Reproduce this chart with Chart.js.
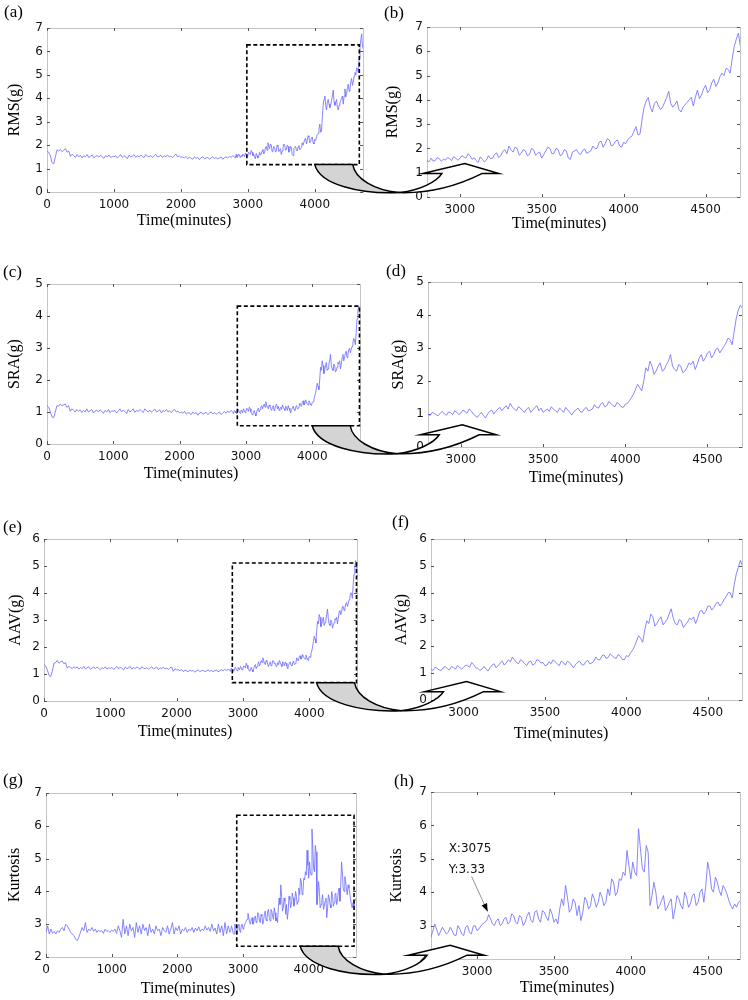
<!DOCTYPE html>
<html><head><meta charset="utf-8">
<script src="https://cdn.jsdelivr.net/npm/chart.js@4.4.1/dist/chart.umd.min.js"></script>
<style>
html,body{margin:0;padding:0;background:#fff;}
#page{position:relative;width:748px;height:1000px;overflow:hidden;background:#fff;}
canvas.plot{position:absolute;}
.lbl{position:absolute;font-family:"Liberation Serif","Times New Roman",serif;color:#000;white-space:nowrap;line-height:1;}
#overlay{position:absolute;left:0;top:0;z-index:10;pointer-events:none;}
</style></head><body><div id="page"></div>
<script>
// ---------------- DATA ----------------
// early part: one reading every 25 minutes from 0 to 2800
const earlyIntervalMinutes = 25;
// late part (zoomed region): one reading every 12.5 minutes from 2812.5 to 4725
const lateStartMinutes = 2800;
const lateIntervalMinutes = 12.5;

const rmsEarlyValues = [
 1.75,1.7,1.55,1.25,1.2,1.5,1.8,1.75,1.82,1.72,1.78,1.85,1.7,
 1.75,
 1.52,1.62,1.55,1.48,1.6,1.5,1.57,1.45,1.55,1.5,1.6,1.47,1.53,1.58,1.46,1.52,1.55,1.49,1.57,1.5,1.44,1.55,1.5,1.58,1.47,1.52,1.5,
 1.55,1.45,1.52,1.6,1.48,1.55,1.5,1.42,1.57,1.5,1.53,1.6,1.48,1.55,1.5,1.58,1.52,1.47,1.6,1.53,1.5,1.56,1.48,1.55,1.6,1.5,1.52,1.57,1.47,1.55,1.5,1.58,1.5,1.53,1.47,1.56,1.62,1.5,1.54,1.48,
 1.5,1.45,1.52,1.42,1.48,1.45,1.4,1.5,1.44,1.47,1.38,1.46,1.5,1.42,1.45,1.48,1.4,1.45,1.5,1.43,1.47,1.42,1.45,1.5,1.4,1.46,1.5,1.45,1.52,1.48,1.55,1.5
];
const rmsLateValues = [
 1.45,1.6, 1.48,1.5, 1.62,1.58, 1.47,1.55, 1.52,1.62, 1.58,1.5, 1.66,1.6, 1.52,1.58,
 1.7,1.65, 1.6,1.78, 1.7,1.55, 1.62,1.5, 1.42,1.65, 1.55,1.45, 1.52,1.7, 1.58,1.6,
 1.75,1.82, 1.62,1.7, 1.88,1.95, 1.78,2.1, 1.95,1.85, 2.05,2.0, 1.72,1.8, 1.95,1.9,
 1.7,1.75, 2.0,1.95, 1.72,1.8, 1.85,1.6, 1.75,1.9, 2.05,2.0, 1.78,1.8, 2.0,1.95,
 1.7,1.75, 1.95,1.9, 1.6,1.55, 1.85,1.9, 1.95,1.8, 1.75,1.92, 1.98,1.8, 1.85,1.9,
 2.1,2.0, 2.0,2.25, 2.3,2.05, 2.2,2.4, 2.35,2.1, 2.15,2.3, 2.35,2.1, 2.05,2.25,
 2.2,2.35, 2.45,2.5, 2.7,2.9, 2.55,2.6, 3.2,3.7, 3.95,4.1, 3.7,3.5, 3.85,3.95,
 3.75,3.6, 3.7,3.9, 4.1,4.35, 3.85,3.7, 3.8,3.95, 3.6,3.5, 3.7,3.8, 3.9,4.0,
 4.1,3.75, 4.1,4.4, 4.05,4.2, 4.45,4.6, 4.3,4.4, 4.7,4.85, 4.55,4.7, 4.95,5.1,
 5.0,5.3, 5.25,5.1, 5.7,6.2, 6.5,6.75, 6.2,6.1
];

const sraEarlyValues = [
 1.2,1.15,1.0,0.85,0.82,1.0,1.2,1.18,1.25,1.2,1.22,1.25,1.15,
 1.2,
 1.02,1.1,1.05,1.0,1.08,1.02,1.07,0.98,1.05,1.0,1.1,1.0,1.04,1.08,0.97,1.03,1.06,1.0,1.07,1.02,0.96,1.05,1.0,1.08,0.98,1.04,1.02,
 1.05,0.97,1.03,1.1,1.0,1.06,1.02,0.95,1.08,1.0,1.04,1.1,0.99,1.05,1.01,1.08,1.03,0.98,1.1,1.04,1.0,1.06,0.99,1.05,1.09,1.0,1.03,1.07,0.97,1.05,1.01,1.08,1.0,1.04,0.98,1.05,1.08,1.0,1.03,0.97,
 1.0,0.96,1.02,0.93,0.98,0.96,0.92,1.0,0.95,0.98,0.9,0.97,1.0,0.93,0.96,0.99,0.92,0.97,1.0,0.94,0.98,0.93,0.96,1.0,0.92,0.97,1.02,0.96,1.03,0.98,1.05,1.0
];
const sraLateValues = [
 0.95,1.05, 1.02,0.97, 0.95,1.03, 1.08,1.0, 0.96,1.06, 1.04,0.98, 1.1,1.05, 0.98,1.03,
 1.12,1.08, 1.02,1.15, 1.1,1.0, 0.95,0.9, 0.98,1.05, 0.95,0.88, 1.0,1.08, 1.12,1.0,
 1.08,1.15, 1.2,1.1, 1.18,1.25, 1.15,1.32, 1.22,1.15, 1.1,1.22, 1.18,1.1, 1.05,1.15,
 1.2,1.05, 1.12,1.2, 1.25,1.1, 1.18,1.05, 1.1,1.15, 1.08,1.22, 1.15,1.1, 1.05,1.18,
 1.12,1.05, 1.2,1.12, 1.05,0.97, 1.08,1.12, 1.18,1.08, 1.05,1.15, 1.2,1.1, 1.12,1.15,
 1.28,1.2, 1.18,1.3, 1.35,1.22, 1.25,1.38, 1.32,1.25, 1.22,1.35, 1.3,1.22, 1.2,1.3,
 1.32,1.4, 1.5,1.6, 1.75,1.9, 1.8,1.7, 2.0,2.4, 2.3,2.6, 2.45,2.2, 2.3,2.45,
 2.55,2.3, 2.35,2.5, 2.6,2.8, 2.45,2.35, 2.3,2.5, 2.45,2.25, 2.3,2.4, 2.55,2.5,
 2.6,2.35, 2.5,2.7, 2.8,2.6, 2.7,2.85, 2.9,2.7, 2.8,2.95, 3.0,2.85, 2.95,3.05,
 3.15,3.3, 3.25,3.1, 3.5,3.9, 4.15,4.3, 4.2,4.0
];

const aavEarlyValues = [
 1.35,1.3,1.15,0.95,0.9,1.1,1.4,1.42,1.5,1.4,1.45,1.48,1.38,
 1.42,
 1.22,1.28,1.25,1.2,1.27,1.22,1.26,1.18,1.24,1.2,1.28,1.19,1.23,1.27,1.17,1.22,1.25,1.2,1.26,1.21,1.16,1.24,1.2,1.27,1.18,1.23,1.21,
 1.24,1.17,1.22,1.28,1.19,1.25,1.21,1.15,1.26,1.2,1.23,1.28,1.18,1.24,1.2,1.26,1.22,1.17,1.27,1.22,1.19,1.24,1.18,1.23,1.27,1.19,1.22,1.26,1.16,1.23,1.2,1.25,1.19,1.22,1.17,1.23,1.26,1.1,1.2,1.15,
 1.16,1.12,1.17,1.09,1.14,1.12,1.08,1.15,1.11,1.13,1.07,1.12,1.15,1.09,1.12,1.14,1.08,1.12,1.15,1.1,1.13,1.09,1.12,1.15,1.08,1.12,1.16,1.12,1.17,1.13,1.18,1.15
];
const aavLateValues = [
 1.1,1.22, 1.18,1.12, 1.1,1.2, 1.25,1.17, 1.12,1.24, 1.22,1.15, 1.28,1.23, 1.15,1.22,
 1.3,1.28, 1.22,1.4, 1.32,1.2, 1.18,1.1, 1.15,1.25, 1.15,1.08, 1.2,1.3, 1.35,1.2,
 1.28,1.38, 1.45,1.3, 1.38,1.5, 1.42,1.6, 1.5,1.4, 1.35,1.5, 1.45,1.35, 1.28,1.42,
 1.45,1.3, 1.35,1.5, 1.48,1.38, 1.4,1.28, 1.3,1.42, 1.35,1.5, 1.42,1.35, 1.28,1.45,
 1.4,1.3, 1.45,1.4, 1.3,1.2, 1.32,1.4, 1.45,1.33, 1.3,1.42, 1.48,1.35, 1.38,1.45,
 1.6,1.5, 1.5,1.65, 1.68,1.55, 1.58,1.72, 1.65,1.58, 1.55,1.7, 1.62,1.52, 1.5,1.65,
 1.62,1.75, 1.85,2.0, 2.2,2.4, 2.3,2.15, 2.6,2.95, 2.85,3.2, 3.1,2.75, 2.85,3.0,
 3.1,2.8, 2.9,3.0, 3.2,3.4, 3.05,2.85, 2.8,3.0, 2.95,2.7, 2.8,2.9, 3.05,3.0,
 3.1,2.85, 3.05,3.3, 3.35,3.2, 3.3,3.5, 3.5,3.35, 3.45,3.6, 3.65,3.5, 3.6,3.75,
 3.85,4.0, 4.0,3.8, 4.3,4.7, 4.95,5.2, 5.0,4.8
];

const kurtosisEarlyValues = [
 2.75,2.95,2.7,2.85,2.72,2.78,2.7,2.8,2.75,2.85,2.9,2.8,3.0,
 2.95,
 2.85,2.75,2.7,2.65,2.55,2.5,2.6,2.75,2.9,2.8,3.05,2.75,2.85,2.8,2.9,2.78,2.85,2.75,2.82,2.78,2.8,2.72,2.85,2.78,2.8,2.75,2.82,
 2.78,2.85,2.72,2.95,2.8,2.6,3.15,2.7,2.95,2.65,3.0,2.8,2.9,2.6,3.05,2.75,2.95,2.7,3.0,2.8,2.9,2.65,3.0,2.75,2.85,2.7,2.95,2.8,2.85,2.65,2.9,2.8,2.75,2.95,2.7,2.85,3.05,2.7,2.9,2.8,
 2.95,2.7,2.85,2.8,2.9,2.75,2.85,2.8,2.9,2.75,2.88,2.8,2.92,2.78,2.85,2.8,2.95,2.82,2.9,2.78,3.0,2.8,2.88,2.7,3.0,2.75,2.95,2.65,3.05,2.7,2.95,2.75
];
const kurtosisLateValues = [
 2.8,2.95, 2.85,2.72, 2.7,3.0, 2.9,2.75, 2.7,2.95, 3.0,2.8, 2.75,2.98, 3.0,2.85,
 2.9,3.0, 3.05,3.1, 3.15,3.33, 3.2,3.05, 3.0,3.15, 3.2,3.0, 3.05,3.2, 3.25,3.05,
 3.1,3.35, 3.3,3.1, 3.05,3.3, 3.25,3.0, 3.1,3.3, 3.4,3.15, 3.1,3.4, 3.45,3.2,
 3.1,3.45, 3.4,3.25, 3.15,3.5, 3.35,3.1, 3.2,3.05, 3.5,3.8, 3.6,4.2, 3.85,3.4,
 3.5,3.8, 3.7,3.3, 3.6,3.15, 3.4,3.85, 3.75,3.5, 3.6,3.95, 3.8,3.55, 3.7,4.0,
 3.85,3.6, 3.7,4.1, 3.9,4.4, 4.3,3.9, 4.0,4.4, 4.35,4.6, 4.5,5.25, 4.8,4.4,
 4.9,4.6, 4.5,5.9, 5.3,4.7, 4.6,5.4, 5.2,3.6, 3.9,4.3, 4.0,3.5, 3.6,3.75,
 3.9,3.45, 3.55,3.7, 3.8,3.2, 3.5,3.9, 3.8,3.6, 3.5,4.0, 3.85,3.55, 3.65,3.9,
 3.95,3.6, 3.7,4.0, 4.1,3.7, 4.2,4.9, 4.6,4.1, 4.0,4.45, 4.3,4.05, 3.9,4.2,
 4.1,3.95, 3.75,3.6, 3.5,3.65, 3.55,3.7, 3.75,3.8
];

const earlyTimes = rmsEarlyValues.map((_, i) => i * earlyIntervalMinutes);
const lateTimes = rmsLateValues.map((_, j) => lateStartMinutes + (j + 1) * lateIntervalMinutes);
const sampleTimes = earlyTimes.concat(lateTimes);

const rmsValues = rmsEarlyValues.concat(rmsLateValues);
const sraValues = sraEarlyValues.concat(sraLateValues);
const aavValues = aavEarlyValues.concat(aavLateValues);
const kurtosisValues = kurtosisEarlyValues.concat(kurtosisLateValues);

// tick labels
const overviewXTicks = [0, 1000, 2000, 3000, 4000];
const zoomXTicks = [3000, 3500, 4000, 4500];
const rmsYTicks = [0, 1, 2, 3, 4, 5, 6, 7];
const sraYTicks = [0, 1, 2, 3, 4, 5];
const aavYTicks = [0, 1, 2, 3, 4, 5, 6];
const kurtosisYTicks = [2, 3, 4, 5, 6, 7];

// zoom windows marked in the overview plots: [xStart, xEnd, yBottom, yTop]
const rmsZoomBox = [2985, 4665, 1.17, 6.28];
const sraZoomBox = [2870, 4712, 0.57, 4.31];
const aavZoomBox = [2840, 4712, 0.68, 5.11];
const kurtosisZoomBox = [2904, 4690, 2.33, 6.32];
// where the curved arrow leaves each zoom window (minutes)
const arrowStartMinutes = [4000, 4000, 4110, 3870];
// data tip shown in panel (h)
const datatipPoint = [3075, 3.33];

// ---------------- LAYOUT ----------------
const page = document.getElementById('page');
const Y_AXIS_W = 44, X_AXIS_H = 30, PAD_TOP = 12, PAD_RIGHT = 22;
const LINE_COLOR = 'rgba(110,110,255,0.92)';

const panels = [
 {tag:'(a)', vals:rmsValues, yTitle:'RMS(g)', xr:[0,4720], yr:[0,7], xt:overviewXTicks, yt:rmsYTicks, L:47,R:363,T:28,B:192, d:32, lab:[4,12], xtl:[184,220], box:rmsZoomBox, arrow:0},
 {tag:'(b)', vals:rmsValues, yTitle:'RMS(g)', xr:[2800,4710], yr:[0,7], xt:zoomXTicks, yt:rmsYTicks, L:427,R:740,T:27,B:197, d:34, lab:[384,13], xtl:[559,223]},
 {tag:'(c)', vals:sraValues, yTitle:'SRA(g)', xr:[0,4720], yr:[0,5], xt:overviewXTicks, yt:sraYTicks, L:47,R:360,T:284,B:444, d:32, lab:[3,272], xtl:[191,473], box:sraZoomBox, arrow:1},
 {tag:'(d)', vals:sraValues, yTitle:'SRA(g)', xr:[2800,4710], yr:[0,5], xt:zoomXTicks, yt:sraYTicks, L:428,R:742,T:282,B:447, d:29, lab:[386,271], xtl:[576,477]},
 {tag:'(e)', vals:aavValues, yTitle:'AAV(g)', xr:[0,4720], yr:[0,6], xt:overviewXTicks, yt:aavYTicks, L:44,R:357,T:539,B:701, d:28, lab:[3,527], xtl:[185,731], box:aavZoomBox, arrow:2},
 {tag:'(f)', vals:aavValues, yTitle:'AAV(g)', xr:[2800,4710], yr:[0,6], xt:zoomXTicks, yt:aavYTicks, L:431,R:742,T:539,B:700, d:29, lab:[392,522], xtl:[561,733]},
 {tag:'(g)', vals:kurtosisValues, yTitle:'Kurtosis', xr:[0,4720], yr:[2,7], xt:overviewXTicks, yt:kurtosisYTicks, L:46,R:356,T:793,B:957, d:31, lab:[3,780], xtl:[188,988], box:kurtosisZoomBox, arrow:3},
 {tag:'(h)', vals:kurtosisValues, yTitle:'Kurtosis', xr:[2700,4710], yr:[2,7], xt:zoomXTicks, yt:kurtosisYTicks, L:431,R:740,T:792,B:959, d:34, lab:[394,781], xtl:[567,987], tip:true}
];

const framePlugin = {
  id: 'matlabFrame',
  beforeDatasetsDraw(chart) {
    const {ctx, chartArea: a, scales: {x, y}} = chart;
    ctx.save();
    ctx.strokeStyle = '#c4c4c4'; ctx.lineWidth = 1;
    ctx.strokeRect(Math.round(a.left) + 0.5, Math.round(a.top) + 0.5, Math.round(a.right - a.left), Math.round(a.bottom - a.top));
    ctx.strokeStyle = '#555'; ctx.beginPath();
    x.ticks.forEach(t => {
      const px = Math.round(x.getPixelForValue(t.value)) + 0.5;
      ctx.moveTo(px, a.bottom); ctx.lineTo(px, a.bottom - 3);
      ctx.moveTo(px, a.top); ctx.lineTo(px, a.top + 3);
    });
    y.ticks.forEach(t => {
      const py = Math.round(y.getPixelForValue(t.value)) + 0.5;
      ctx.moveTo(a.left, py); ctx.lineTo(a.left + 3, py);
      ctx.moveTo(a.right, py); ctx.lineTo(a.right - 3, py);
    });
    ctx.stroke(); ctx.restore();
  }
};

const zoomBoxPlugin = {
  id: 'zoomBox',
  afterDatasetsDraw(chart, args, opts) {
    if (!opts.box) return;
    const {ctx, scales: {x, y}} = chart;
    const [x0, x1, yb, yt] = opts.box;
    const l = x.getPixelForValue(x0), r = x.getPixelForValue(x1);
    const t = y.getPixelForValue(yt), b = y.getPixelForValue(yb);
    ctx.save();
    ctx.strokeStyle = '#000'; ctx.lineWidth = 1.6; ctx.setLineDash([4, 2.5]);
    ctx.strokeRect(l, t, r - l, b - t);
    ctx.restore();
  }
};

const datatipPlugin = {
  id: 'datatip',
  afterDatasetsDraw(chart, args, opts) {
    if (!opts.show) return;
    const {ctx, scales: {x, y}} = chart;
    const px = x.getPixelForValue(datatipPoint[0]);
    const py = y.getPixelForValue(datatipPoint[1]);
    ctx.save();
    ctx.fillStyle = '#111';
    ctx.font = '12px "DejaVu Sans", sans-serif';
    ctx.textBaseline = 'alphabetic';
    ctx.fillText('X:' + datatipPoint[0], px - 40, py - 63);
    ctx.fillText('Y:' + datatipPoint[1].toFixed(2), px - 40, py - 42);
    const sx = px - 17, sy = py - 38, ex = px - 1, ey = py - 3;
    ctx.strokeStyle = '#777'; ctx.lineWidth = 0.8;
    ctx.beginPath(); ctx.moveTo(sx, sy); ctx.lineTo(ex, ey); ctx.stroke();
    const ang = Math.atan2(ey - sy, ex - sx);
    ctx.fillStyle = '#000';
    ctx.beginPath();
    ctx.moveTo(ex, ey);
    ctx.lineTo(ex - 8 * Math.cos(ang) + 3 * Math.sin(ang), ey - 8 * Math.sin(ang) - 3 * Math.cos(ang));
    ctx.lineTo(ex - 8 * Math.cos(ang) - 3 * Math.sin(ang), ey - 8 * Math.sin(ang) + 3 * Math.cos(ang));
    ctx.closePath(); ctx.fill();
    ctx.restore();
  }
};

const charts = [];
panels.forEach(p => {
  const cv = document.createElement('canvas');
  cv.className = 'plot';
  const left = p.L - Y_AXIS_W, top = p.T - PAD_TOP;
  const w = Y_AXIS_W + (p.R - p.L) + PAD_RIGHT, h = PAD_TOP + (p.B - p.T) + X_AXIS_H;
  cv.width = w; cv.height = h;
  cv.style.left = left + 'px'; cv.style.top = top + 'px';
  cv.style.width = w + 'px'; cv.style.height = h + 'px';
  page.appendChild(cv);
  p.left = left; p.top = top;

  const pts = p.vals.map((v, i) => ({x: sampleTimes[i], y: v}));
  const chart = new Chart(cv.getContext('2d'), {
    type: 'line',
    data: {datasets: [{data: pts, borderColor: LINE_COLOR, borderWidth: 0.9, pointRadius: 0, tension: 0, fill: false}]},
    options: {
      responsive: false, animation: false, devicePixelRatio: 1,
      layout: {padding: {top: PAD_TOP, right: PAD_RIGHT, bottom: 0, left: 0}},
      plugins: {legend: {display: false}, tooltip: {enabled: false},
        zoomBox: {box: p.box || null}, datatip: {show: !!p.tip}},
      scales: {
        x: {type: 'linear', min: p.xr[0], max: p.xr[1],
          grid: {display: false, drawTicks: false}, border: {display: false},
          afterBuildTicks: s => { s.ticks = p.xt.map(v => ({value: v})); },
          afterFit: s => { s.height = X_AXIS_H; },
          ticks: {padding: 6, maxRotation: 0, autoSkip: false, color: '#111',
            font: {family: 'DejaVu Sans', size: 12}, callback: v => String(v)}},
        y: {type: 'linear', min: p.yr[0], max: p.yr[1],
          grid: {display: false, drawTicks: false}, border: {display: false},
          afterBuildTicks: s => { s.ticks = p.yt.map(v => ({value: v})); },
          afterFit: s => { s.width = Y_AXIS_W; },
          ticks: {padding: 4, autoSkip: false, color: '#111',
            font: {family: 'DejaVu Sans', size: 12}, callback: v => String(v)},
          title: {display: true, text: p.yTitle, color: '#000',
            font: {family: 'Liberation Serif', size: 16},
            padding: {top: Math.max(0, Y_AXIS_W - p.d - 9.6), bottom: 0}}}
      }
    },
    plugins: [framePlugin, zoomBoxPlugin, datatipPlugin]
  });
  charts.push(chart);
  p.chart = chart;

  const lab = document.createElement('div');
  lab.className = 'lbl'; lab.textContent = p.tag;
  lab.style.fontSize = '17px';
  lab.style.left = p.lab[0] + 'px'; lab.style.top = (p.lab[1] - 9) + 'px';
  page.appendChild(lab);

  const xt = document.createElement('div');
  xt.className = 'lbl'; xt.textContent = 'Time(minutes)';
  xt.style.fontSize = '16px';
  xt.style.left = p.xtl[0] + 'px'; xt.style.top = p.xtl[1] + 'px';
  xt.style.transform = 'translate(-50%,-50%)';
  page.appendChild(xt);
});

// ---------------- OVERLAY: curved zoom arrows ----------------
const ov = document.createElement('canvas');
ov.id = 'overlay'; ov.width = 748; ov.height = 1000;
ov.style.width = '748px'; ov.style.height = '1000px';
page.appendChild(ov);
const octx = ov.getContext('2d');

function drawZoomArrow(ctx, sx, sy) {
  ctx.save(); ctx.translate(sx, sy);
  ctx.lineWidth = 1.5; ctx.strokeStyle = '#000'; ctx.lineJoin = 'miter';
  ctx.beginPath();
  ctx.moveTo(0, 0); ctx.lineTo(38, 0);
  ctx.bezierCurveTo(40, 14, 60, 26, 85, 28);
  ctx.bezierCurveTo(45, 30, 5, 20, 0, 0);
  ctx.closePath();
  ctx.fillStyle = '#d4d4d4'; ctx.fill(); ctx.stroke();
  ctx.beginPath();
  ctx.moveTo(84, 28);
  ctx.bezierCurveTo(115, 29, 145, 20, 167, 9);
  ctx.lineTo(184, 9); ctx.lineTo(150, -1); ctx.lineTo(108, 9); ctx.lineTo(127, 9);
  ctx.bezierCurveTo(122, 17, 105, 26, 84, 28);
  ctx.closePath();
  ctx.fillStyle = '#fff'; ctx.fill(); ctx.stroke();
  ctx.restore();
}

panels.forEach(p => {
  if (!p.box) return;
  const c = p.chart;
  const sx = p.left + c.scales.x.getPixelForValue(arrowStartMinutes[p.arrow]);
  const sy = p.top + c.scales.y.getPixelForValue(p.box[2]);
  drawZoomArrow(octx, sx, sy);
});
</script>
</body></html>
